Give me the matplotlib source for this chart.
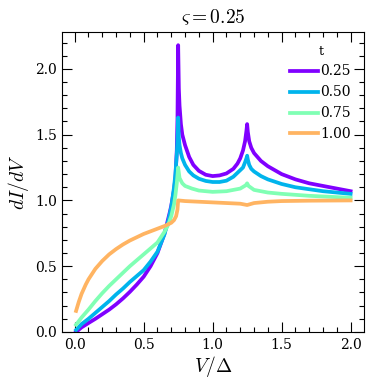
import matplotlib
matplotlib.use("Agg")
import matplotlib.pyplot as plt
from matplotlib.ticker import MultipleLocator

plt.rcParams['font.family'] = ['DejaVu Serif']
plt.rcParams['mathtext.fontset'] = 'cm'

t_labels = ["0.25", "0.50", "0.75", "1.00"]
colors = ["#8000ff", "#00b4ec", "#80ffb4", "#ffb462"]

x_025 = [0.01, 0.05, 0.1, 0.15, 0.2, 0.25, 0.3, 0.35, 0.4, 0.45, 0.5, 0.55, 0.6, 0.65, 0.688, 0.7, 0.72, 0.73, 0.74,
         0.745, 0.75, 0.755, 0.76, 0.77, 0.78, 0.8, 0.83, 0.86, 0.9, 0.95, 1.0, 1.05, 1.1, 1.15, 1.18, 1.2, 1.22,
         1.235, 1.245, 1.25, 1.255, 1.265, 1.28, 1.3, 1.35, 1.4, 1.5, 1.6, 1.7, 1.8, 1.9, 2.0]
y_025 = [0.0, 0.035, 0.068, 0.10, 0.135, 0.17, 0.21, 0.255, 0.305, 0.36, 0.42, 0.50, 0.60, 0.745, 0.904, 0.96, 1.08,
         1.17, 1.38, 1.62, 2.18, 1.85, 1.72, 1.58, 1.50, 1.42, 1.33, 1.27, 1.225, 1.195, 1.185, 1.19, 1.205, 1.24,
         1.28, 1.32, 1.38, 1.45, 1.53, 1.58, 1.52, 1.45, 1.40, 1.36, 1.30, 1.26, 1.20, 1.16, 1.13, 1.11, 1.09, 1.07]

x_050 = [0.01, 0.05, 0.1, 0.15, 0.2, 0.25, 0.3, 0.35, 0.4, 0.45, 0.5, 0.55, 0.6, 0.65, 0.68, 0.7, 0.72, 0.73, 0.74,
         0.745, 0.75, 0.755, 0.76, 0.77, 0.78, 0.8, 0.83, 0.86, 0.9, 0.95, 1.0, 1.05, 1.1, 1.15, 1.2, 1.22, 1.235,
         1.245, 1.25, 1.255, 1.265, 1.28, 1.3, 1.35, 1.4, 1.5, 1.6, 1.7, 1.8, 1.9, 2.0]
y_050 = [0.015, 0.06, 0.10, 0.145, 0.19, 0.235, 0.285, 0.33, 0.38, 0.425, 0.47, 0.535, 0.61, 0.74, 0.85, 0.95, 1.10,
         1.20, 1.35, 1.45, 1.63, 1.48, 1.42, 1.36, 1.32, 1.27, 1.22, 1.19, 1.165, 1.148, 1.14, 1.14, 1.15, 1.18,
         1.23, 1.25, 1.29, 1.32, 1.34, 1.31, 1.27, 1.24, 1.22, 1.185, 1.16, 1.125, 1.10, 1.085, 1.07, 1.06, 1.05]

x_075 = [0.01, 0.05, 0.1, 0.15, 0.2, 0.25, 0.3, 0.35, 0.4, 0.45, 0.5, 0.55, 0.6, 0.65, 0.68, 0.7, 0.72, 0.73, 0.74,
         0.75, 0.76, 0.78, 0.8, 0.85, 0.9, 1.0, 1.1, 1.2, 1.24, 1.25, 1.26, 1.3, 1.4, 1.5, 1.7, 2.0]
y_075 = [0.055, 0.11, 0.17, 0.235, 0.295, 0.35, 0.40, 0.45, 0.50, 0.545, 0.59, 0.635, 0.68, 0.76, 0.82, 0.88, 0.97,
         1.04, 1.13, 1.25, 1.17, 1.13, 1.11, 1.09, 1.075, 1.065, 1.07, 1.09, 1.115, 1.13, 1.11, 1.08, 1.06, 1.05,
         1.035, 1.02]

x_100 = [0.01, 0.03, 0.05, 0.08, 0.1, 0.15, 0.2, 0.25, 0.3, 0.35, 0.4, 0.45, 0.5, 0.55, 0.6, 0.65, 0.7, 0.72,
         0.735, 0.745, 0.75, 0.8, 0.9, 1.0, 1.1, 1.2, 1.25, 1.3, 1.4, 1.5, 1.7, 2.0]
y_100 = [0.16, 0.23, 0.29, 0.36, 0.40, 0.48, 0.54, 0.59, 0.63, 0.665, 0.695, 0.72, 0.745, 0.765, 0.785, 0.805,
         0.83, 0.85, 0.88, 0.93, 1.0, 0.995, 0.99, 0.985, 0.98, 0.975, 0.965, 0.98, 0.99, 0.995, 0.998, 1.0]

series = [(x_025, y_025), (x_050, y_050), (x_075, y_075), (x_100, y_100)]

fig = plt.figure(figsize=(3.74, 3.86), dpi=100)
ax = fig.add_axes([0.1665, 0.14, 0.806, 0.777])

for (xs, ys), lab, c in zip(series, t_labels, colors):
    ax.plot(xs, ys, color=c, lw=2.7, label=lab)

ax.set_xlim(-0.09, 2.095)
ax.set_ylim(0, 2.28)
ax.xaxis.set_major_locator(MultipleLocator(0.5))
ax.xaxis.set_minor_locator(MultipleLocator(0.1))
ax.yaxis.set_major_locator(MultipleLocator(0.5))
ax.yaxis.set_minor_locator(MultipleLocator(0.1))
ax.tick_params(which='both', direction='in', top=True, right=True, labelsize=10)
ax.tick_params(which='major', length=7, width=0.8, pad=4)
ax.tick_params(which='minor', length=3.5, width=0.8)

ax.set_xlabel(r'$V/\Delta$', fontsize=14, labelpad=2)
ax.set_ylabel(r'$dI/dV$', fontsize=14, labelpad=3)
ax.set_title(r'$\varsigma = 0.25$', fontsize=14, pad=6)

leg = ax.legend(title='t', loc='upper right', frameon=False, fontsize=10, title_fontsize=9,
                handlelength=2.0, handletextpad=0.2, labelspacing=0.5, borderaxespad=0.5)

fig.savefig('out.png', dpi=100)
